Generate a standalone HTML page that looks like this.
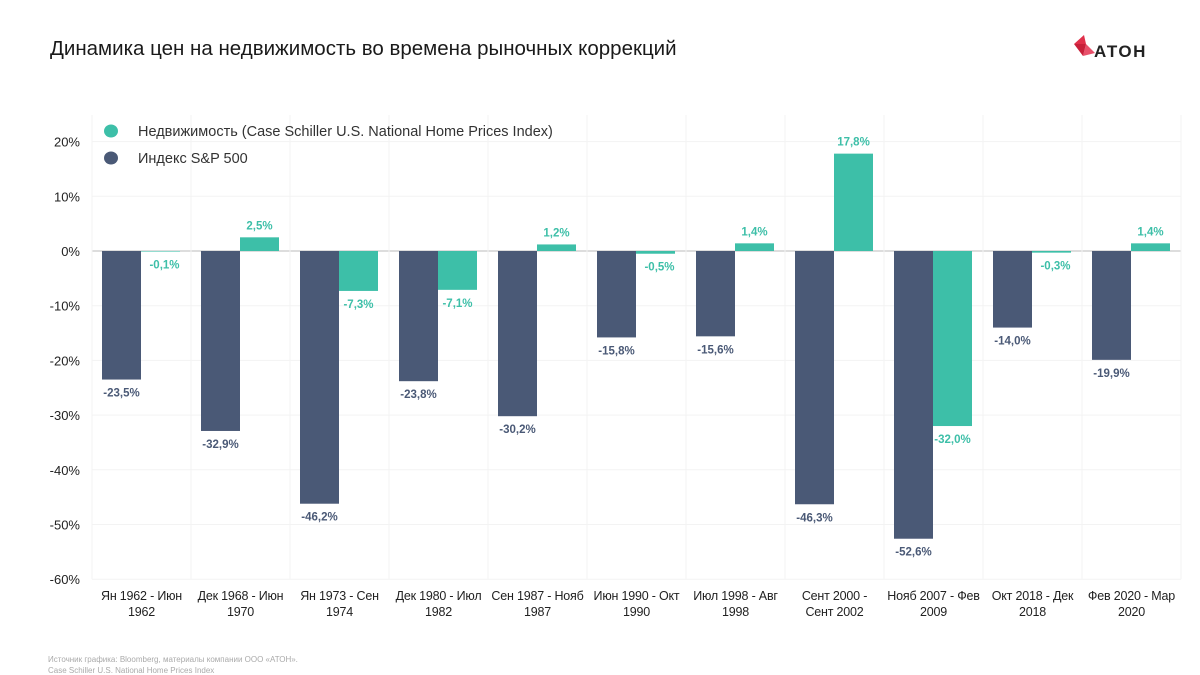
<!DOCTYPE html>
<html><head><meta charset="utf-8"><style>
body{margin:0;background:#fff;font-family:"Liberation Sans","Noto Sans CJK SC",sans-serif;}
#wrap{position:relative;width:1200px;height:675px;overflow:hidden}
</style></head><body>
<div id="wrap">
<div style="position:absolute;left:50px;top:37px;font-size:20.5px;color:#1a1a1a">Динамика цен на недвижимость во времена рыночных коррекций</div>
<div style="position:absolute;left:1072px;top:34px;width:84px;height:30px">
<svg width="84" height="30"><polygon points="2,10 12,1 14,10" fill="#e0304a"/><polygon points="14,10 23,19 11,22" fill="#e8506a"/><polygon points="2,10 14,10 11,22" fill="#c8203a"/><text x="22" y="23" font-size="17" font-weight="bold" fill="#222" font-family="Liberation Sans, sans-serif" letter-spacing="1.5">АТОН</text></svg></div>
<svg id="chart" width="1200" height="675" style="position:absolute;left:0;top:0"></svg>
<div style="position:absolute;left:48px;top:654px;font-size:8px;line-height:11px;color:#aaa">Источник графика: Bloomberg, материалы компании ООО «АТОН».<br>Case Schiller U.S. National Home Prices Index</div>
</div>
<script>
const categories=[["Ян 1962 - Июн","1962"],["Дек 1968 - Июн","1970"],["Ян 1973 - Сен","1974"],["Дек 1980 - Июл","1982"],["Сен 1987 - Нояб","1987"],["Июн 1990 - Окт","1990"],["Июл 1998 - Авг","1998"],["Сент 2000 -","Сент 2002"],["Нояб 2007 - Фев","2009"],["Окт 2018 - Дек","2018"],["Фев 2020 - Мар","2020"]];
const sp500=[-23.5,-32.9,-46.2,-23.8,-30.2,-15.8,-15.6,-46.3,-52.6,-14.0,-19.9];
const realEstate=[-0.1,2.5,-7.3,-7.1,1.2,-0.5,1.4,17.8,-32.0,-0.3,1.4];
const ticks=[20,10,0,-10,-20,-30,-40,-50,-60];
const NS="http://www.w3.org/2000/svg",svg=document.getElementById('chart');
const x0=92,gw=99,yTop=115;
const y=v=>251-v*5.47;
function mk(t,a){const e=document.createElementNS(NS,t);for(const k in a)e.setAttribute(k,a[k]);svg.appendChild(e);return e;}
const fmt=v=>(v<0?'-':'')+Math.abs(v).toFixed(1).replace('.',',')+'%';
for(const t of ticks){
 const l=mk('line',{x1:x0,x2:x0+gw*11,y1:y(t),y2:y(t),stroke:t===0?'#bbb':'#f3f3f3','stroke-width':1});
 
 const tx=mk('text',{x:80,y:y(t)+5,'text-anchor':'end','font-size':13,fill:'#222'});tx.textContent=t+'%';
 
}
for(let i=0;i<=11;i++){const l=mk('line',{x1:x0+gw*i,x2:x0+gw*i,y1:yTop,y2:y(-60),stroke:'#f3f3f3'});
 }
categories.forEach((c,i)=>{
 const gx=x0+gw*i;
 [[sp500[i],gx+10,'#4a5976','#4a5976'],[realEstate[i],gx+49,'#3dbfa8','#3dbfa8']].forEach(([v,bx,col,lc],j)=>{
  const r=mk('rect',{x:bx,width:39,y:Math.min(y(v),y(0)),height:Math.abs(y(v)-y(0)),fill:col});
  
  const ly=v>=0?y(v)-8:y(v)+17;
  const t=mk('text',{x:bx+19.5+(j&&v<0&&v>-1?4:0),y:ly,'text-anchor':'middle','font-size':11.5,'font-weight':'bold',fill:lc});t.textContent=fmt(v);
  
 });
 c.forEach((s,k)=>{const t=mk('text',{x:gx+gw/2,y:600+k*16,'text-anchor':'middle','font-size':12.5,'letter-spacing':'-0.2',fill:'#222'});t.textContent=s;
  });
});
[['#3dbfa8','Недвижимость (Case Schiller U.S. National Home Prices Index)',131],['#4a5976','Индекс S&P 500',158]].forEach(([c,s,yy])=>{
 const e=mk('ellipse',{cx:111,cy:yy,rx:7,ry:6.5,fill:c});
 const t=mk('text',{x:138,y:yy+5,'font-size':14.5,fill:'#333'});t.textContent=s;
});
</script>
</body></html>
